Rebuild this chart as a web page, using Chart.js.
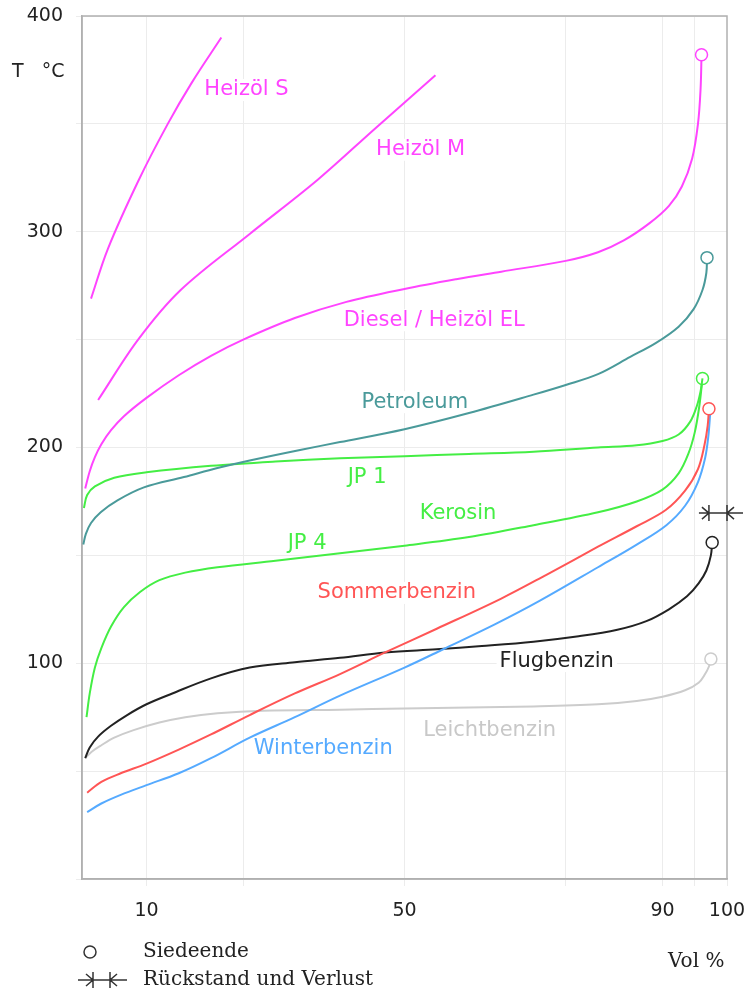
<!DOCTYPE html>
<html>
<head>
<meta charset="utf-8">
<script src="https://cdn.jsdelivr.net/npm/chart.js@4.4.0/dist/chart.umd.min.js"></script>
<style>
	html, body { margin: 0; padding: 0; background: #fff; }
</style>
</head>
<body>
<canvas id="siedekurven" width="744" height="992"></canvas>
<script>
// Siedeverlauf: [Vol %, T in °C]
const heizoelS = [[1.4, 269], [4, 292], [8.8, 324], [13.3, 350], [17, 369], [21.6, 390]];
const heizoelM = [[2.5, 222], [8.7, 250], [15.3, 273], [26, 299], [36.5, 324], [45.5, 348], [54.8, 372.5]];
const diesel = [[0.5, 181], [1.2, 189], [2, 195.5], [3, 201.5], [4.5, 208], [6.5, 214.5], [10, 223], [15, 233.5], [20, 242.5], [25, 250], [33, 260], [41, 267.5], [50, 273.5], [58, 278], [65, 281.5], [75, 286.5], [80, 290.5], [84, 296], [88, 304], [91, 312], [93, 321], [94.6, 334], [95.5, 350], [95.9, 366], [96.05, 382]];
const petroleum = [[0.2, 155], [0.6, 160], [1.4, 165], [2.9, 170], [5.5, 175.5], [9.6, 181.5], [15.8, 186.3], [21, 190.5], [26, 194], [34, 199], [40, 202.5], [50, 208.5], [60, 216], [70, 224.5], [75, 229], [80, 234], [85, 242], [89, 248.5], [92.5, 256], [94.8, 264], [96.2, 273], [96.8, 281], [96.9, 288]];
const jp1 = [[0.3, 172], [0.8, 178], [2, 182], [5, 186], [10, 188.5], [20, 191.5], [30, 193.5], [40, 195], [50, 196], [60, 197], [70, 198], [80, 200], [86, 201], [90, 203], [92.5, 206], [94.3, 212], [95.3, 219], [95.9, 226], [96.2, 232]];
const jp4 = [[0.7, 75], [1.2, 86], [2, 98], [3, 107], [4.5, 117], [6.5, 126], [9, 133], [12, 138.5], [16, 142], [21, 144.5], [30, 147.5], [40, 151], [50, 154.5], [60, 158.5], [70, 164], [80, 170], [86, 175], [90, 180.5], [92.5, 188], [94, 197], [95, 207], [95.7, 219], [96.2, 232]];
const sommerbenzin = [[0.8, 40], [3, 45], [6, 49], [10, 53.5], [15, 60], [20, 67], [26, 76], [33, 86], [40, 95], [47, 105], [55, 116], [65, 130], [72, 141], [80, 154], [86, 163.5], [90.5, 171], [93.5, 180], [95.5, 190], [96.5, 201], [97, 210], [97.2, 218]];
const winterbenzin = [[0.8, 31], [3, 35], [6, 39], [10, 43.5], [15, 49], [20, 56], [26, 65.5], [33, 75], [40, 85], [50, 98], [56, 106.5], [64, 118], [71, 129], [80, 144.5], [86, 155], [90.6, 164], [93.5, 173], [95.5, 184], [96.6, 195], [97.1, 205], [97.4, 216]];
const flugbenzin = [[0.5, 56], [1.2, 61], [2.5, 66], [4.5, 71], [7, 76], [10, 81], [14, 86], [20, 93], [26, 98], [33, 100.5], [40, 102.5], [47, 105], [55, 106.5], [62, 108], [70, 110], [77, 112.5], [83, 115.5], [87.5, 119.5], [91, 125], [93.8, 131], [95.6, 137], [96.8, 143], [97.5, 150], [97.7, 156]];
const leichtbenzin = [[0.5, 56], [1.5, 59], [3, 62], [5, 65.5], [8, 69], [12, 72.5], [16, 75], [21, 76.8], [28, 78], [40, 78.5], [50, 79], [60, 79.5], [70, 80], [80, 81], [86, 82.5], [90, 84.5], [93.5, 87.5], [95.6, 91], [96.6, 95], [97.2, 98.5], [97.5, 102]];

// Rückstand und Verlust (Vol % von / bis, bei T)
const residueVol = [97.2, 100];
const residueTemp = 169.6;

// axes
const xGridValues = [10, 25, 50, 75, 90, 95, 100];
const xTickLabels = [10, 50, 90, 100];
const yTickLabels = [100, 200, 300, 400];

const MAGENTA = '#ff44ff';
const TEAL = '#4a9a9a';
const GREEN = '#44ee44';
const RED = '#ff5555';
const BLUE = '#55aaff';
const BLACK = '#222222';
const GREY = '#cccccc';

const series = [
	{ label: 'Heizöl S', pts: heizoelS, color: MAGENTA, end: false },
	{ label: 'Heizöl M', pts: heizoelM, color: MAGENTA, end: false },
	{ label: 'Diesel / Heizöl EL', pts: diesel, color: MAGENTA, end: true },
	{ label: 'Petroleum', pts: petroleum, color: TEAL, end: true },
	{ label: 'JP 1', pts: jp1, color: GREEN, end: false },
	{ label: 'JP 4', pts: jp4, color: GREEN, end: true },
	{ label: 'Sommerbenzin', pts: sommerbenzin, color: RED, end: true },
	{ label: 'Winterbenzin', pts: winterbenzin, color: BLUE, end: false },
	{ label: 'Flugbenzin', pts: flugbenzin, color: BLACK, end: true },
	{ label: 'Leichtbenzin', pts: leichtbenzin, color: GREY, end: true },
];

// text on the curves: [text, Vol %, T, colour]
const curveLabels = [
	['Heizöl S', 25.5, 365.7, MAGENTA],
	['Heizöl M', 52.5, 338, MAGENTA],
	['Diesel / Heizöl EL', 54.6, 259, MAGENTA],
	['Petroleum', 51.6, 221, TEAL],
	['JP 1', 44.2, 186.3, GREEN],
	['Kerosin', 58.3, 169.6, GREEN],
	['JP 4', 34.9, 155.7, GREEN],
	['Sommerbenzin', 48.8, 132.6, RED],
	['Flugbenzin', 73.6, 101, BLACK],
	['Leichtbenzin', 63.2, 68.6, '#c8c8c8'],
	['Winterbenzin', 37.4, 60.3, BLUE],
];

const datasets = series.map((s) => {
	return {
		label: s.label,
		data: s.pts.map(([x, y]) => ({ x, y })),
		borderColor: s.color,
		borderWidth: 2,
		fill: false,
		tension: 0.35,
		pointRadius: (ctx) => (s.end && ctx.dataIndex === s.pts.length - 1 ? 6 : 0),
		pointHoverRadius: 0,
		pointBackgroundColor: '#ffffff',
		pointBorderColor: s.color,
		pointBorderWidth: 1.5,
	};
});

// draws residue mark ">|—|<"
function residueMark(ctx, x1, x2, y, extL, extR) {
	ctx.beginPath();
	ctx.moveTo(x1 - extL, y);
	ctx.lineTo(x2 + extR, y);
	ctx.moveTo(x1, y - 8);
	ctx.lineTo(x1, y + 8);
	ctx.moveTo(x1 - 7, y - 6);
	ctx.lineTo(x1, y);
	ctx.lineTo(x1 - 7, y + 6);
	ctx.moveTo(x2, y - 8);
	ctx.lineTo(x2, y + 8);
	ctx.moveTo(x2 + 7, y - 6);
	ctx.lineTo(x2, y);
	ctx.lineTo(x2 + 7, y + 6);
	ctx.stroke();
}

const decorations = {
	id: 'decorations',
	beforeDatasetsDraw(chart) {
		const { ctx, chartArea: { top, bottom, left, right }, scales: { x, y } } = chart;
		ctx.save();
		// frame
		ctx.strokeStyle = '#b0b0b0';
		ctx.lineWidth = 1.5;
		ctx.strokeRect(left, top, right - left, bottom - top);
		// curve labels with white box
		ctx.font = '21px "DejaVu Sans"';
		ctx.textAlign = 'center';
		ctx.textBaseline = 'middle';
		curveLabels.forEach(([txt, vx, vy, col]) => {
			const px = x.getPixelForValue(vx);
			const py = y.getPixelForValue(vy);
			const w = ctx.measureText(txt).width;
			ctx.fillStyle = '#ffffff';
			ctx.fillRect(px - w / 2 - 3, py - 11, w + 6, 22);
			ctx.fillStyle = col;
			ctx.fillText(txt, px, py);
		});
		ctx.restore();
	},
	afterDraw(chart) {
		const { ctx, scales: { x, y } } = chart;
		ctx.save();
		ctx.strokeStyle = '#333333';
		ctx.lineWidth = 1.5;
		residueMark(ctx, x.getPixelForValue(residueVol[0]), x.getPixelForValue(residueVol[1]), y.getPixelForValue(residueTemp), 10, 16);

		// axis titles
		ctx.fillStyle = '#222222';
		ctx.font = '19px "DejaVu Sans"';
		ctx.textAlign = 'left';
		ctx.textBaseline = 'middle';
		ctx.fillText('T   °C', 12, 72);
		ctx.font = '20px "DejaVu Serif"';
		ctx.fillText('Vol %', 668, 962);

		// legend
		ctx.beginPath();
		ctx.arc(90, 952, 6, 0, Math.PI * 2);
		ctx.stroke();
		ctx.fillText('Siedeende', 143, 952);
		residueMark(ctx, 93, 110, 980, 15, 17);
		ctx.fillText('Rückstand und Verlust', 143, 980);
		ctx.restore();
	},
};

const config = {
	type: 'line',
	data: { datasets },
	options: {
		responsive: false,
		animation: false,
		devicePixelRatio: 1,
		layout: { padding: { left: 10, top: 16, right: 17, bottom: 73 } },
		plugins: { legend: { display: false }, tooltip: { enabled: false } },
		scales: {
			x: {
				type: 'linear',
				min: 0,
				max: 100,
				afterBuildTicks: (scale) => {
					scale.ticks = xGridValues.map((v) => ({ value: v }));
				},
				afterFit: (scale) => {
					scale.height = 40;
					scale.paddingLeft = 0;
					scale.paddingRight = 0;
				},
				ticks: {
					autoSkip: false,
					maxRotation: 0,
					padding: 14,
					color: '#222222',
					font: { family: 'DejaVu Sans', size: 19 },
					callback: (v) => (xTickLabels.includes(v) ? String(v) : ''),
				},
				grid: {
					color: (c) => (c.tick && c.tick.value === 100 ? 'rgba(0,0,0,0)' : '#ececec'),
					tickColor: '#ececec',
					tickLength: 7,
				},
				border: { color: '#b0b0b0', width: 1.5 },
			},
			y: {
				min: 0,
				max: 400,
				afterFit: (scale) => {
					scale.width = 72;
					scale.paddingTop = 0;
					scale.paddingBottom = 0;
				},
				ticks: {
					stepSize: 50,
					padding: 13,
					color: '#222222',
					font: { family: 'DejaVu Sans', size: 19 },
					callback: (v) => (yTickLabels.includes(v) ? String(v) : ''),
				},
				grid: { color: '#ececec', tickColor: '#ececec', tickLength: 6 },
				border: { color: '#b0b0b0', width: 1.5 },
			},
		},
	},
	plugins: [decorations],
};

const siedekurven = new Chart(document.getElementById('siedekurven'), config);
</script>
</body>
</html>
